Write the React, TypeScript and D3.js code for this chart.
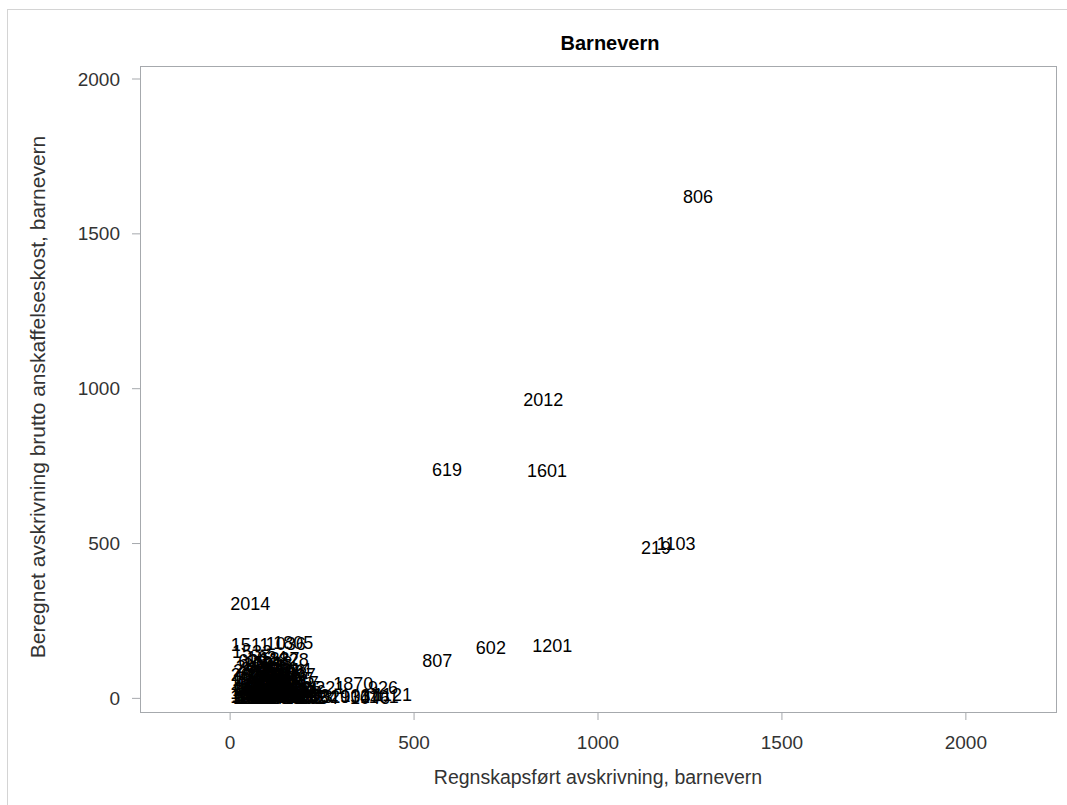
import React from "react";
import * as d3 from "d3";

// regnskapsført (x) vs beregnet (y) avskrivning, barnevern, per kommune
const outliers: [string, number, number][] = [
  ["806", 1231, 1619],
  ["2012", 797, 963],
  ["619", 549, 737],
  ["1601", 807, 734],
  ["219", 1117, 486],
  ["1103", 1160, 498],
  ["2014", 0, 305],
  ["602", 668, 162],
  ["1201", 821, 169],
  ["807", 522, 120],
];

const clusterLow: [string, number, number][] = [
  ["1811", 0, 3], ["1812", 4, 9], ["1813", 8, 1], ["1815", 12, 12],
  ["1816", 16, 5], ["1818", 20, 0], ["1820", 25, 8], ["1822", 30, 14],
  ["1824", 35, 2], ["1825", 40, 10], ["1832", 45, 4], ["1833", 50, 13],
  ["1834", 55, 0], ["1835", 60, 7], ["1836", 66, 11], ["1837", 72, 3],
  ["1838", 78, 9], ["1839", 85, 1], ["1840", 92, 6], ["1841", 100, 12],
  ["1845", 108, 2], ["1848", 116, 8], ["1849", 125, 4], ["1850", 135, 10],
  ["1851", 146, 1], ["1852", 158, 6], ["1853", 170, 3], ["1854", 185, 0],
];

const clusterMid: [string, number, number][] = [
  ["1856", 0, 18], ["1857", 5, 26], ["1859", 10, 35], ["1860", 15, 21],
  ["1865", 20, 30], ["1866", 26, 38], ["1867", 32, 17], ["1868", 38, 27],
  ["1871", 44, 33], ["1874", 50, 20], ["1902", 57, 36], ["1903", 64, 24],
  ["1911", 71, 31], ["1913", 78, 18], ["1917", 86, 28], ["1919", 94, 37],
  ["1920", 102, 22], ["1922", 111, 30], ["1923", 120, 19], ["1924", 130, 26],
  ["1925", 140, 34], ["1926", 152, 21],
  ["1927", 0, 45], ["1928", 6, 58], ["1929", 12, 66], ["1931", 18, 50],
  ["1933", 25, 62], ["1936", 32, 43], ["1938", 39, 55], ["1939", 46, 68],
  ["1940", 53, 48], ["1941", 60, 60], ["1942", 68, 42], ["1943", 76, 53],
  ["2002", 84, 65], ["2003", 92, 47], ["2004", 100, 57], ["2011", 110, 44],
  ["2015", 120, 62], ["2017", 132, 50],
];

const clusterHigh: [string, number, number][] = [
  ["2018", 2, 74], ["2019", 8, 88], ["2020", 15, 100], ["2021", 22, 80],
  ["2022", 29, 94], ["2023", 36, 108], ["2024", 44, 76], ["2025", 52, 90],
  ["2027", 60, 104], ["2028", 68, 82], ["2030", 76, 96], ["1001", 84, 72],
  ["1002", 92, 86], ["1003", 101, 78], ["1106", 100, 90], ["1014", 112, 92],
  ["1017", 124, 74],
  ["626", 22, 122], ["1021", 35, 112], ["1624", 45, 130], ["1018", 60, 115],
  ["1827", 80, 128], ["1828", 105, 124],
  ["1511", 2, 173], ["1532", 5, 150], ["1036", 97, 176], ["1805", 117, 178],
];

const tail: [string, number, number][] = [
  ["1253", 163, 8], ["1221", 204, 33], ["1029", 217, 5], ["1034", 272, 3],
  ["1870", 280, 46], ["1037", 300, 9], ["1046", 326, 2], ["1101", 353, 6],
  ["926", 375, 33], ["1121", 389, 10],
];

const xTicks = [0, 500, 1000, 1500, 2000];
const yTicks = [0, 500, 1000, 1500, 2000];

const W = 1067;
const H = 805;
const plot = { left: 140, top: 66, right: 1056, bottom: 712 };
const font = "'Liberation Sans', Arial, sans-serif";

export default function App() {
  const x = d3.scaleLinear().domain([-245, 2245]).range([plot.left, plot.right]);
  const y = d3.scaleLinear().domain([-44, 2042]).range([plot.bottom, plot.top]);

  const points = [...clusterLow, ...clusterMid, ...clusterHigh, ...tail, ...outliers];
  const cx = (plot.left + plot.right) / 2;
  const cy = (plot.top + plot.bottom) / 2;

  return (
    <svg
      width={W}
      height={H}
      style={{ position: "absolute", left: 0, top: 0, background: "#fff", fontFamily: font }}
    >
      <rect x={7.5} y={9.5} width={1080} height={820} fill="none" stroke="#d4d4d4" />

      <text x={cx + 12} y={43} textAnchor="middle" dominantBaseline="central" fontSize={20} fontWeight="bold" fill="#000">
        Barnevern
      </text>

      <rect
        x={plot.left + 0.5}
        y={plot.top + 0.5}
        width={plot.right - plot.left}
        height={plot.bottom - plot.top}
        fill="none"
        stroke="#a6a9ad"
      />

      {xTicks.map((t) => (
        <g key={"x" + t}>
          <line x1={x(t)} x2={x(t)} y1={plot.bottom} y2={plot.bottom + 8} stroke="#a6a9ad" />
          <text x={x(t)} y={742} textAnchor="middle" dominantBaseline="central" fontSize={19} fill="#333">
            {t}
          </text>
        </g>
      ))}

      {yTicks.map((t) => (
        <g key={"y" + t}>
          <line x1={plot.left - 8} x2={plot.left} y1={y(t)} y2={y(t)} stroke="#a6a9ad" />
          <text x={120} y={y(t)} textAnchor="end" dominantBaseline="central" fontSize={19} fill="#333">
            {t}
          </text>
        </g>
      ))}

      <text x={cx} y={777} textAnchor="middle" dominantBaseline="central" fontSize={19.5} fill="#333">
        Regnskapsført avskrivning, barnevern
      </text>
      <text
        transform={`translate(37, ${cy + 8}) rotate(-90)`}
        textAnchor="middle"
        dominantBaseline="central"
        fontSize={21}
        fill="#333"
      >
        Beregnet avskrivning brutto anskaffelseskost, barnevern
      </text>

      {points.map(([id, vx, vy], i) => (
        <text
          key={id + i}
          x={x(vx)}
          y={y(vy)}
          dominantBaseline="central"
          fontSize={18}
          fill="#000"
        >
          {id}
        </text>
      ))}
    </svg>
  );
}
